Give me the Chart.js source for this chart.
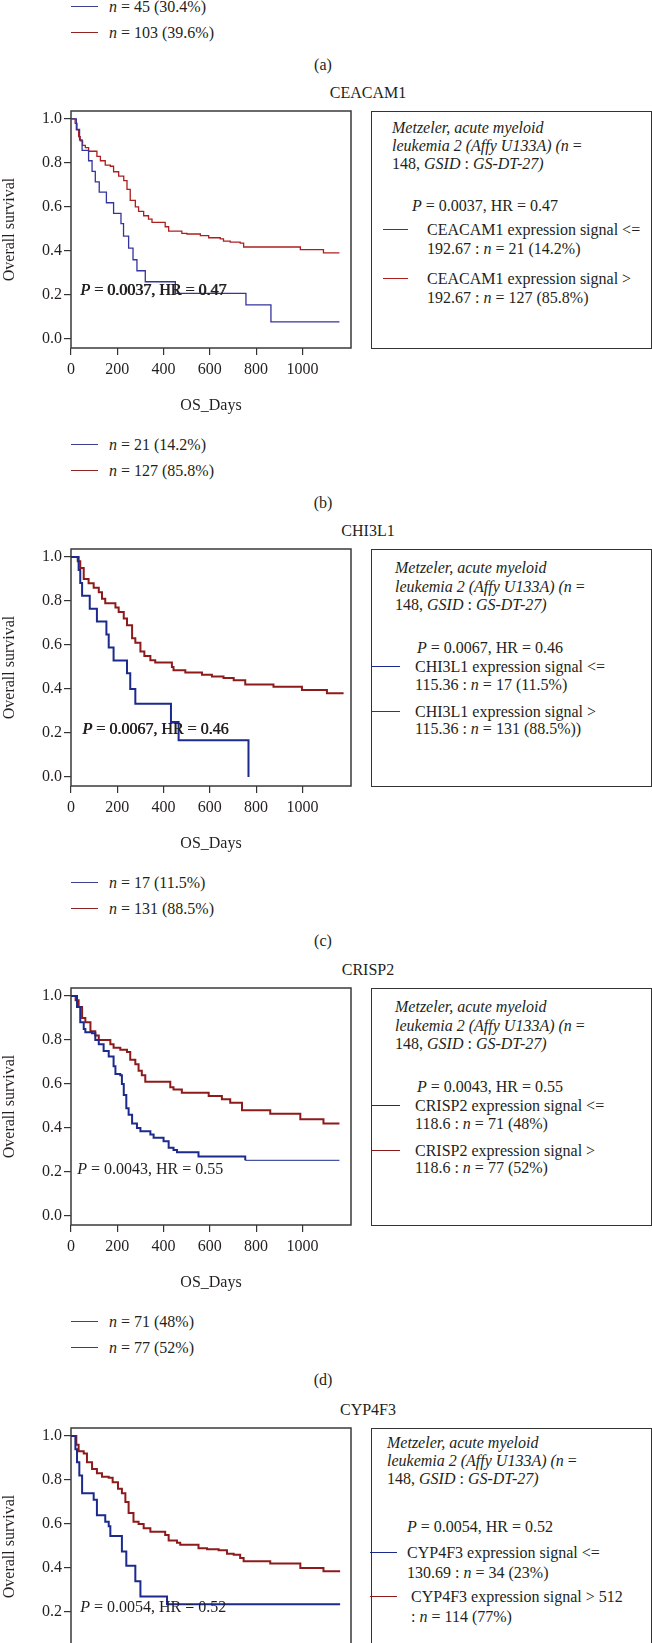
<!DOCTYPE html>
<html>
<head>
<meta charset="utf-8">
<script src="https://cdn.jsdelivr.net/npm/chart.js@4.4.1/dist/chart.umd.min.js"></script>
<style>
html,body{margin:0;padding:0;background:#fff;overflow:hidden}
#page{position:relative;width:652px;height:1643px;overflow:hidden;font-family:"Liberation Serif","Times New Roman",serif;color:#231f20}
.t{position:absolute;white-space:nowrap;font-size:16px;line-height:20px}
.c{transform:translateX(-50%)}
.box{position:absolute;border:1.5px solid #333;box-sizing:border-box}
.ln{position:absolute;height:0;border-top:1.5px solid}
canvas{position:absolute;left:0}
</style>
</head>
<body>
<div id="page"></div>
<script>
/* KM survival, Metzeler AML 2 — panels a (tail) .. e (head) */
var X_TICKS = [0, 200, 400, 600, 800, 1000];
var Y_TICKS = [0, 0.2, 0.4, 0.6, 0.8, 1.0];

// [days, survival]
var ceacam1Low  = [[0,1],[23,0.952],[37,0.905],[48,0.857],[76,0.81],[91,0.762],[105,0.714],[122,0.667],[153,0.619],[184,0.571],[216,0.524],[227,0.467],[249,0.413],[268,0.36],[285,0.31],[321,0.26],[451,0.207],[756,0.155],[864,0.078],[1160,0.078]];
var ceacam1High = [[0,1],[18,0.98],[26,0.95],[33,0.92],[40,0.9],[50,0.88],[62,0.87],[76,0.853],[112,0.83],[127,0.81],[148,0.79],[170,0.785],[184,0.76],[206,0.74],[228,0.72],[242,0.68],[256,0.63],[278,0.6],[292,0.58],[314,0.56],[335,0.545],[350,0.53],[407,0.51],[422,0.49],[479,0.48],[501,0.477],[559,0.47],[595,0.46],[645,0.455],[659,0.445],[688,0.44],[731,0.436],[746,0.418],[991,0.406],[1091,0.391],[1160,0.391]];

var chi3l1Low  = [[0,1],[33,0.941],[40,0.882],[48,0.824],[81,0.765],[112,0.706],[153,0.647],[163,0.588],[184,0.529],[242,0.471],[256,0.4],[278,0.333],[432,0.25],[465,0.167],[767,0]];
var chi3l1High = [[0,1],[29,0.98],[40,0.95],[55,0.9],[76,0.88],[98,0.86],[120,0.84],[134,0.81],[148,0.79],[192,0.77],[206,0.75],[228,0.72],[242,0.69],[264,0.63],[278,0.61],[300,0.57],[317,0.55],[343,0.53],[364,0.52],[436,0.5],[443,0.485],[494,0.475],[566,0.465],[609,0.457],[659,0.45],[703,0.44],[753,0.42],[875,0.41],[998,0.395],[1106,0.38],[1178,0.38]];

var crisp2Low  = [[0,1],[26,0.95],[40,0.88],[55,0.85],[62,0.835],[91,0.83],[105,0.8],[120,0.78],[141,0.75],[163,0.725],[184,0.68],[192,0.645],[213,0.64],[220,0.6],[228,0.55],[239,0.49],[249,0.46],[264,0.42],[285,0.4],[300,0.385],[343,0.37],[357,0.355],[400,0.34],[422,0.31],[443,0.3],[458,0.29],[551,0.27],[753,0.253],[1160,0.253]];
var crisp2High = [[0,1],[20,0.98],[33,0.95],[48,0.9],[62,0.88],[84,0.84],[105,0.82],[120,0.8],[170,0.78],[184,0.765],[213,0.755],[242,0.745],[256,0.71],[278,0.69],[292,0.66],[306,0.64],[321,0.61],[429,0.585],[443,0.575],[479,0.56],[595,0.545],[652,0.53],[688,0.515],[739,0.48],[861,0.465],[991,0.44],[1091,0.42],[1160,0.42]];

var cyp4f3Low  = [[0,1],[19,0.94],[26,0.88],[36,0.82],[48,0.74],[98,0.71],[112,0.64],[148,0.61],[163,0.59],[170,0.545],[220,0.475],[239,0.41],[278,0.34],[300,0.27],[415,0.235],[1163,0.235]];
var cyp4f3High = [[0,1],[23,0.96],[33,0.93],[55,0.92],[69,0.88],[91,0.85],[112,0.83],[134,0.815],[163,0.81],[180,0.79],[203,0.76],[220,0.74],[235,0.7],[249,0.65],[270,0.61],[292,0.6],[314,0.58],[343,0.565],[407,0.55],[422,0.525],[458,0.515],[472,0.505],[551,0.49],[588,0.485],[638,0.48],[674,0.465],[703,0.46],[731,0.445],[746,0.43],[861,0.42],[991,0.4],[1091,0.385],[1163,0.385]];

var FONT = '"Liberation Serif","Times New Roman",serif';
var INK = '#231f20';
var LEG_BLUE = '#3d3f8f', LEG_RED = '#8e2424';
var page = document.getElementById('page');

function txt(html, x, y, center) {
  var d = document.createElement('div');
  d.className = 't' + (center ? ' c' : '');
  d.style.left = x + 'px'; d.style.top = (y - 10) + 'px';
  d.innerHTML = html; page.appendChild(d); return d;
}
function seg(x1, x2, y, col) {
  var d = document.createElement('div'); d.className = 'ln';
  d.style.left = x1 + 'px'; d.style.width = (x2 - x1) + 'px';
  d.style.top = (y - 1) + 'px'; d.style.borderTopColor = col;
  page.appendChild(d);
}
function pts(a) { return a.map(function (d) { return {x: d[0], y: d[1]}; }); }

var framePlugin = {
  id: 'frame',
  beforeDatasetsDraw: function (c) {
    var a = c.chartArea, x = c.ctx;
    x.save(); x.strokeStyle = '#3a3a3a'; x.lineWidth = 1.5;
    x.strokeRect(a.left, a.top, a.right - a.left, a.bottom - a.top); x.restore();
  }
};
var notePlugin = {
  id: 'pnote',
  afterDatasetsDraw: function (c, args, o) {
    var x = c.ctx, px = c.scales.x.getPixelForValue(o.at[0]), py = c.scales.y.getPixelForValue(o.at[1]);
    var passes = o.heavy ? [0, 0.6] : [0];
    x.save(); x.fillStyle = INK; x.textBaseline = 'middle';
    passes.forEach(function (dx) {
      x.font = 'italic 16px ' + FONT; x.fillText('P', px + dx, py);
      var w = x.measureText('P').width;
      x.font = '16px ' + FONT; x.fillText(' = ' + o.p + ', HR = ' + o.hr, px + w + dx, py);
    });
    x.restore();
  }
};

function makeChart(p) {
  var cv = document.createElement('canvas');
  cv.width = 360; cv.height = 316;
  cv.style.width = '360px'; cv.style.height = '316px';
  cv.style.top = (p.T - 12) + 'px';
  page.appendChild(cv);
  var tickFont = {family: FONT, size: 16};
  var grid = {drawOnChartArea: false, drawTicks: true, tickLength: 7, color: '#333', lineWidth: 1.2};
  var thinFrom = p.thinFrom;
  new Chart(cv, {
    type: 'line',
    data: {datasets: [
      {data: pts(p.low), borderColor: p.blue, borderWidth: p.lw, stepped: true, pointRadius: 0, fill: false,
       segment: {borderWidth: function (s) { return thinFrom != null && s.p0.parsed.x >= thinFrom ? 1 : p.lw; }}},
      {data: pts(p.high), borderColor: p.red, borderWidth: p.lw, stepped: true, pointRadius: 0, fill: false}
    ]},
    options: {
      responsive: false, animation: false, devicePixelRatio: 1,
      layout: {padding: {left: 0, right: 9, top: 12, bottom: 0}},
      plugins: {legend: {display: false}, tooltip: {enabled: false},
        pnote: {at: p.noteAt, p: p.pv, hr: p.hr, heavy: p.heavy}},
      scales: {
        x: {type: 'linear', min: 0, max: 1210,
          afterBuildTicks: function (s) { s.ticks = X_TICKS.map(function (v) { return {value: v}; }); },
          afterFit: function (s) { s.height = 67; },
          grid: grid, border: {display: false},
          ticks: {color: INK, font: tickFont, padding: 5, maxRotation: 0, autoSkip: false,
            callback: function (v) { return String(v); }},
          title: {display: true, text: 'OS_Days', color: INK, font: tickFont, padding: 0}},
        y: {type: 'linear', min: -0.041, max: 1.036,
          afterBuildTicks: function (s) { s.ticks = Y_TICKS.map(function (v) { return {value: v}; }); },
          afterFit: function (s) { s.width = 71; },
          grid: grid, border: {display: false},
          ticks: {color: INK, font: tickFont, padding: 2, autoSkip: false,
            callback: function (v) { return Number(v).toFixed(1); }},
          title: {display: true, text: 'Overall survival', color: INK, font: tickFont, padding: 0}}
      }
    },
    plugins: [framePlugin, notePlugin]
  });
}

var HEAD = ['<i>Metzeler, acute myeloid</i>',
            '<i>leukemia 2 (Affy U133A) (n</i> =',
            '148, <i>GSID</i> : <i>GS-DT-27)</i>'];

function makeBox(p) {
  var b = document.createElement('div'); b.className = 'box';
  b.style.left = '371px'; b.style.top = p.T + 'px';
  b.style.width = '281px'; b.style.height = '238px';
  page.appendChild(b);
  var L = p.box;
  HEAD.forEach(function (h, i) { txt(h, L.hx, p.T + L.head[i]); });
  txt('<i>P</i> = ' + p.pv + ', HR = ' + p.hr, L.px, p.T + L.pl);
  seg(L.lx[0], L.lx[1], p.T + L.e1[0], p.blue);
  txt(p.lowLines[0], L.tx, p.T + L.e1[0]);
  txt(p.lowLines[1], L.tx, p.T + L.e1[1]);
  seg(L.lx[0], L.lx[1], p.T + L.e2[0], p.red);
  txt(p.highLines[0], L.tx2 || L.tx, p.T + L.e2[0]);
  txt(p.highLines[1], L.tx2 || L.tx, p.T + L.e2[1]);
}

function makeLegend(T, lowN, highN, label) {
  seg(71, 98, T + 334, LEG_BLUE); txt('<i>n</i> = ' + lowN, 109, T + 334);
  seg(71, 98, T + 360, LEG_RED);  txt('<i>n</i> = ' + highN, 109, T + 360);
  txt(label, 323, T + 392, true);
}

var PANELS = [
  {T: 111, title: 'CEACAM1', label: '(b)', low: ceacam1Low, high: ceacam1High, lw: 1.3, heavy: true,
   blue: '#34349f', red: '#ad1f1f',
   pv: '0.0037', hr: '0.47', noteAt: [40, 0.218], lowN: '21 (14.2%)', highN: '127 (85.8%)',
   lowLines: ['CEACAM1 expression signal &lt;=', '192.67 : <i>n</i> = 21 (14.2%)'],
   highLines: ['CEACAM1 expression signal &gt;', '192.67 : <i>n</i> = 127 (85.8%)'],
   box: {hx: 392, head: [17, 35, 53], px: 412, pl: 95, lx: [383, 408], tx: 427, e1: [119, 138], e2: [168, 187]}},
  {T: 549, title: 'CHI3L1', label: '(c)', low: chi3l1Low, high: chi3l1High, lw: 2, heavy: true,
   blue: '#1b2a8c', red: '#8e1b1b',
   pv: '0.0067', hr: '0.46', noteAt: [49, 0.214], lowN: '17 (11.5%)', highN: '131 (88.5%)',
   lowLines: ['CHI3L1 expression signal &lt;=', '115.36 : <i>n</i> = 17 (11.5%)'],
   highLines: ['CHI3L1 expression signal &gt;', '115.36 : <i>n</i> = 131 (88.5%))'],
   box: {hx: 395, head: [19, 38, 56], px: 417, pl: 99, lx: [372, 400], tx: 415, e1: [118, 136], e2: [163, 180]}},
  {T: 988, title: 'CRISP2', label: '(d)', low: crisp2Low, high: crisp2High, lw: 2, heavy: false, thinFrom: 753,
   blue: '#1b2a8c', red: '#8e1b1b',
   pv: '0.0043', hr: '0.55', noteAt: [27, 0.209], lowN: '71 (48%)', highN: '77 (52%)',
   lowLines: ['CRISP2 expression signal &lt;=', '118.6 : <i>n</i> = 71 (48%)'],
   highLines: ['CRISP2 expression signal &gt;', '118.6 : <i>n</i> = 77 (52%)'],
   box: {hx: 395, head: [19, 38, 56], px: 417, pl: 99, lx: [372, 400], tx: 415, e1: [118, 136], e2: [163, 180]}},
  {T: 1428, title: 'CYP4F3', label: '(e)', low: cyp4f3Low, high: cyp4f3High, lw: 2, heavy: false,
   blue: '#1b2a8c', red: '#8e1b1b',
   pv: '0.0054', hr: '0.52', noteAt: [40, 0.218], lowN: '34 (23%)', highN: '114 (77%)',
   lowLines: ['CYP4F3 expression signal &lt;=', '130.69 : <i>n</i> = 34 (23%)'],
   highLines: ['CYP4F3 expression signal &gt; 512', ': <i>n</i> = 114 (77%)'],
   box: {hx: 387, head: [15, 33, 51], px: 407, pl: 99, lx: [370, 397], tx: 407, tx2: 411, e1: [125, 145], e2: [169, 189]}}
];

// tail of panel (a)
makeLegend(-327, '45 (30.4%)', '103 (39.6%)', '(a)');

PANELS.forEach(function (p) {
  txt(p.title, 368, p.T - 18, true);
  makeChart(p);
  makeBox(p);
  makeLegend(p.T, p.lowN, p.highN, p.label);
});
</script>
</body>
</html>
